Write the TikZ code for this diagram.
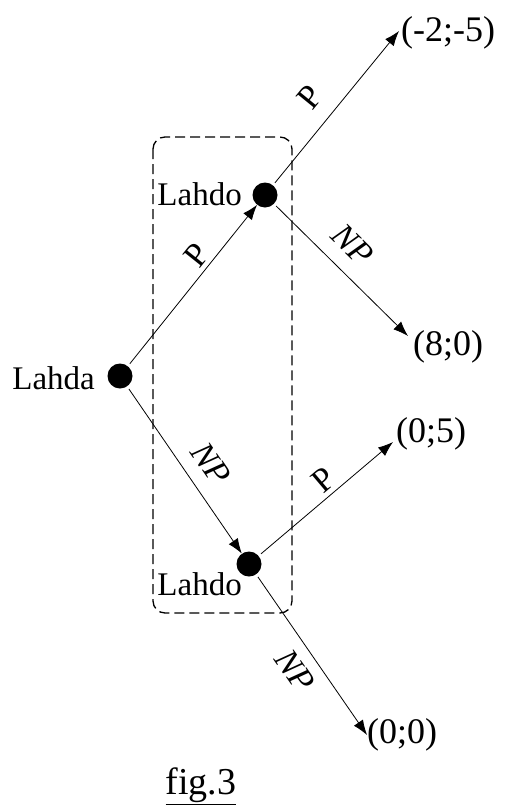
\documentclass[tikz,border=0pt]{standalone}
\usepackage{fontspec}
\setmainfont{Liberation Serif}
\usetikzlibrary{arrows.meta}
\begin{document}
\begin{tikzpicture}[x=1pt,y=-1pt,
  dot/.style={circle,fill=black,inner sep=0pt,minimum size=25pt},
  lbl/.style={font=\fontsize{33}{33}\selectfont,inner sep=1pt},
  pay/.style={font=\fontsize{36}{36}\selectfont,inner sep=1pt,anchor=west},
  edge/.style={line width=0.8pt,-{Latex[length=15pt,width=11pt]},shorten <=3pt},
  elab/.style={font=\fontsize{34}{34}\selectfont,sloped,inner sep=2pt},
  grp/.style={draw=black,dash pattern=on 10pt off 5pt,line width=1.3pt,rounded corners=12pt}]
\useasboundingbox (0,0) rectangle (505,809);
% dashed information set
\draw[grp] (153,137) rectangle (292,613);
% decision nodes
\node[dot] (A) at (120,376) {};
\node[dot] (U) at (265,195) {};
\node[dot] (L) at (249,564) {};
\node[lbl,anchor=east] (la) at (96,378) {Lahda};
\node[lbl,anchor=east] (lu) at (243,194) {Lahdo};
\node[lbl,anchor=east] (ll) at (243,584) {Lahdo};
% payoffs
\node[pay] (t1) at (400,33) {(-2;-5)};
\node[pay] (t2) at (412,347) {(8;0)};
\node[pay] (t3) at (395,434) {(0;5)};
\node[pay] (t4) at (366,735) {(0;0)};
\coordinate (c1) at (399,31);
\coordinate (c2) at (408,336);
\coordinate (c3) at (393,442);
\coordinate (c4) at (367,735);
% edges
\draw[edge] (A) -- node[elab,pos=.63,above=2pt] {P} (U);
\draw[edge] (A) -- node[elab,pos=.55,above=12pt] {\itshape NP} (L);
\draw[edge] (U) -- node[elab,pos=.46,above=14pt] {P} (c1);
\draw[edge] (U) -- node[elab,pos=.45,above=13pt] {\itshape NP} (c2);
\draw[edge] (L) -- node[elab,pos=.56,above=2pt] {P} (c3);
\draw[edge] (L) -- node[elab,pos=.52,below=9pt] {\itshape NP} (c4);
% caption
\node[font=\fontsize{38}{38}\selectfont] (cap) at (201,786) {\underline{fig.3}};
\end{tikzpicture}
\end{document}
